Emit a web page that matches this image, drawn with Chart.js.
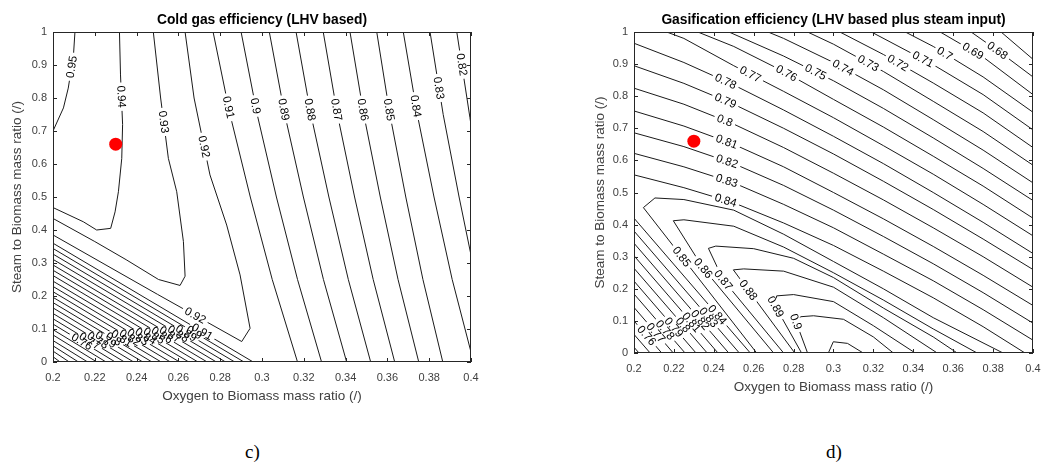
<!DOCTYPE html>
<html>
<head>
<meta charset="utf-8">
<script src="https://cdn.jsdelivr.net/npm/chart.js@4.4.1/dist/chart.umd.min.js"></script>
<style>
  body { margin: 0; background: #fff; width: 1054px; height: 465px; position: relative; overflow: hidden; }
  canvas { position: absolute; top: 0; }
  #cold { left: 0; }
  #gas { left: 560px; }
  .cap { position: absolute; top: 441px; font: 19px "Liberation Serif", "Times New Roman", serif; color: #000; }
</style>
</head>
<body>
<canvas id="cold" width="520" height="420"></canvas>
<canvas id="gas" width="494" height="420"></canvas>
<div class="cap" style="left:245px">c)</div>
<div class="cap" style="left:826px">d)</div>
<script>
// axis ticks
const xTicks = [0.2, 0.22, 0.24, 0.26, 0.28, 0.3, 0.32, 0.34, 0.36, 0.38, 0.4];
const xTickLabels = ["0.2", "0.22", "0.24", "0.26", "0.28", "0.3", "0.32", "0.34", "0.36", "0.38", "0.4"];
const yTicks = [0, 0.1, 0.2, 0.3, 0.4, 0.5, 0.6, 0.7, 0.8, 0.9, 1];
const yTickLabels = ["0", "0.1", "0.2", "0.3", "0.4", "0.5", "0.6", "0.7", "0.8", "0.9", "1"];

// operating point (red dot)
const markPoint = [0.23, 0.66];

// c) cold gas efficiency contours
const coldLevels = [0.95, 0.94, 0.93, 0.92, 0.91, 0.9, 0.89, 0.88, 0.87, 0.86, 0.85, 0.84, 0.83, 0.82,
  0.91, 0.9, 0.89, 0.88, 0.87, 0.86, 0.85, 0.84, 0.83, 0.82, 0.81, 0.8, 0.79, 0.78, 0.77, 0.76, 0.75, 0.74, 0.73, 0.72, 0.71, 0.7];
const coldPaths = [
  [[0.2105, 1], [0.2098, 0.93], [0.2073, 0.83], [0.205, 0.77], [0.2, 0.70]],
  [[0.2318, 1], [0.2323, 0.87], [0.2333, 0.72], [0.2329, 0.617], [0.2313, 0.516], [0.2297, 0.455], [0.2276, 0.405], [0.2209, 0.40], [0.2145, 0.425], [0.2, 0.468]],
  [[0.248, 1], [0.2515, 0.8], [0.2552, 0.617], [0.2592, 0.516], [0.2624, 0.365], [0.2632, 0.26], [0.2608, 0.232], [0.2505, 0.25], [0.235, 0.31], [0.22, 0.365], [0.2, 0.435]],
  [[0.2632, 1], [0.2675, 0.8], [0.2751, 0.567], [0.2831, 0.415], [0.2895, 0.264], [0.2943, 0.102], [0.2903, 0.062], [0.25, 0.205], [0.2, 0.385]],
  [[0.2766, 1], [0.2847, 0.75], [0.2944, 0.5], [0.3049, 0.25], [0.317, 0]],
  [[0.29, 1], [0.2977, 0.75], [0.3069, 0.5], [0.317, 0.25], [0.3285, 0]],
  [[0.3035, 1], [0.3109, 0.75], [0.3198, 0.5], [0.3294, 0.25], [0.3405, 0]],
  [[0.3163, 1], [0.3234, 0.75], [0.332, 0.5], [0.3413, 0.25], [0.352, 0]],
  [[0.3293, 1], [0.3361, 0.75], [0.3443, 0.5], [0.3532, 0.25], [0.3635, 0]],
  [[0.3421, 1], [0.3487, 0.75], [0.3566, 0.5], [0.3651, 0.25], [0.375, 0]],
  [[0.3549, 1], [0.3612, 0.75], [0.3688, 0.5], [0.377, 0.25], [0.3865, 0]],
  [[0.3676, 1], [0.3743, 0.75], [0.3823, 0.5], [0.391, 0.25], [0.4, 0.03]],
  [[0.3804, 1], [0.3867, 0.75], [0.3943, 0.5], [0.4, 0.324]],
  [[0.3932, 1], [0.3995, 0.74], [0.4, 0.718]],
  [[0.2, 0.360], [0.2958, 0]], [[0.2, 0.344], [0.2914, 0]], [[0.2, 0.327], [0.2870, 0]], [[0.2, 0.311], [0.2826, 0]],
  [[0.2, 0.294], [0.2782, 0]], [[0.2, 0.278], [0.2738, 0]], [[0.2, 0.262], [0.2694, 0]], [[0.2, 0.245], [0.2650, 0]],
  [[0.2, 0.229], [0.2606, 0]], [[0.2, 0.213], [0.2562, 0]], [[0.2, 0.196], [0.2518, 0]], [[0.2, 0.180], [0.2474, 0]],
  [[0.2, 0.164], [0.2430, 0]], [[0.2, 0.147], [0.2386, 0]], [[0.2, 0.131], [0.2342, 0]], [[0.2, 0.115], [0.2298, 0]],
  [[0.2, 0.098], [0.2254, 0]], [[0.2, 0.082], [0.2210, 0]], [[0.2, 0.065], [0.2166, 0]], [[0.2, 0.049], [0.2122, 0]],
  [[0.2, 0.033], [0.2078, 0]], [[0.2, 0.016], [0.2034, 0]]
];
const coldLabelAt = [
  [[0.2085, 0.895]], [[0.2325, 0.804]], [[0.2536, 0.728]], [[0.2719, 0.652], [0.268, 0.14]], [[0.2818, 0.769]],
  [[0.2954, 0.774]], [[0.3094, 0.764]], [[0.3222, 0.764]], [[0.3349, 0.764]], [[0.3477, 0.764]],
  [[0.3604, 0.764]], [[0.3724, 0.774]], [[0.3836, 0.829]], [[0.3944, 0.9]],
  [[0.2714, 0.0917]], [[0.2676, 0.0896]], [[0.2638, 0.0872]], [[0.2599, 0.0854]], [[0.256, 0.0835]], [[0.2521, 0.0817]],
  [[0.2483, 0.0797]], [[0.2444, 0.0777]], [[0.2406, 0.0756]], [[0.2368, 0.0735]], [[0.2329, 0.0715]], [[0.2291, 0.0695]],
  [[0.2253, 0.0675]], [[0.2214, 0.0655]], [[0.2176, 0.0636]], [[0.2138, 0.0617]], [], [], [], [], [], []
];

// d) gasification efficiency contours
const gasLevels = [0.67, 0.68, 0.69, 0.7, 0.71, 0.72, 0.73, 0.74, 0.75, 0.76, 0.77, 0.78, 0.79, 0.8, 0.81, 0.82, 0.83, 0.84,
  0.85, 0.86, 0.87, 0.88, 0.89, 0.9, 0.91,
  0.84, 0.83, 0.82, 0.81, 0.8, 0.79, 0.78, 0.77, 0.76, 0.75, 0.74];
const gasPaths = [
  [[0.384, 1], [0.4, 0.915]],
  [[0.369, 1], [0.385, 0.93], [0.4, 0.86]],
  [[0.3535, 1], [0.375, 0.922], [0.4, 0.805]],
  [[0.336, 1], [0.35, 0.955], [0.375, 0.86], [0.4, 0.75]],
  [[0.319, 1], [0.35, 0.898], [0.375, 0.805], [0.4, 0.695]],
  [[0.3032, 1], [0.325, 0.93], [0.35, 0.841], [0.375, 0.748], [0.4, 0.64]],
  [[0.287, 1], [0.3, 0.962], [0.325, 0.877], [0.35, 0.784], [0.375, 0.69], [0.4, 0.585]],
  [[0.2672, 1], [0.275, 0.98], [0.3, 0.905], [0.325, 0.82], [0.35, 0.727], [0.375, 0.632], [0.4, 0.53]],
  [[0.2476, 1], [0.275, 0.925], [0.3, 0.848], [0.325, 0.762], [0.35, 0.67], [0.375, 0.575], [0.4, 0.475]],
  [[0.232, 1], [0.25, 0.955], [0.275, 0.877], [0.3, 0.79], [0.325, 0.704], [0.35, 0.613], [0.375, 0.52], [0.4, 0.42]],
  [[0.2164, 1], [0.225, 0.98], [0.25, 0.895], [0.275, 0.815], [0.3, 0.733], [0.325, 0.646], [0.35, 0.557], [0.375, 0.463], [0.4, 0.365]],
  [[0.2, 0.965], [0.225, 0.905], [0.25, 0.835], [0.275, 0.757], [0.3, 0.675], [0.325, 0.59], [0.35, 0.5], [0.375, 0.407], [0.4, 0.31]],
  [[0.2, 0.895], [0.225, 0.84], [0.25, 0.775], [0.275, 0.7], [0.3, 0.62], [0.325, 0.535], [0.35, 0.447], [0.375, 0.355], [0.4, 0.26]],
  [[0.2, 0.825], [0.225, 0.775], [0.25, 0.713], [0.275, 0.64], [0.3, 0.56], [0.325, 0.477], [0.35, 0.39], [0.375, 0.3], [0.4, 0.205]],
  [[0.2, 0.754], [0.225, 0.707], [0.25, 0.65], [0.275, 0.58], [0.3, 0.5], [0.325, 0.418], [0.35, 0.332], [0.375, 0.242], [0.4, 0.148]],
  [[0.2, 0.686], [0.225, 0.643], [0.25, 0.59], [0.275, 0.522], [0.3, 0.445], [0.325, 0.363], [0.35, 0.278], [0.375, 0.188], [0.4, 0.093]],
  [[0.2, 0.622], [0.225, 0.58], [0.25, 0.53], [0.275, 0.463], [0.3, 0.39], [0.325, 0.308], [0.35, 0.225], [0.375, 0.135], [0.4, 0.04]],
  [[0.2, 0.555], [0.225, 0.515], [0.25, 0.468], [0.275, 0.405], [0.3, 0.335], [0.325, 0.255], [0.35, 0.172], [0.375, 0.082], [0.396, 0]],
  [[0.2615, 0], [0.2239, 0.3], [0.2047, 0.453], [0.2105, 0.483], [0.225, 0.478], [0.25, 0.445], [0.275, 0.37], [0.3, 0.285], [0.325, 0.2], [0.35, 0.11], [0.385, 0]],
  [[0.27, 0], [0.2347, 0.264], [0.2197, 0.412], [0.225, 0.415], [0.25, 0.395], [0.275, 0.33], [0.3, 0.25], [0.325, 0.165], [0.35, 0.075], [0.372, 0]],
  [[0.275, 0], [0.2448, 0.227], [0.2373, 0.326], [0.241, 0.333], [0.26, 0.325], [0.28, 0.295], [0.3, 0.235], [0.325, 0.14], [0.35, 0.05], [0.362, 0]],
  [[0.2806, 0], [0.2573, 0.196], [0.2498, 0.259], [0.255, 0.262], [0.275, 0.255], [0.3, 0.205], [0.325, 0.11], [0.352, 0]],
  [[0.284, 0], [0.271, 0.144], [0.2715, 0.178], [0.28, 0.182], [0.3, 0.16], [0.32, 0.085], [0.341, 0]],
  [[0.287, 0], [0.2812, 0.0975], [0.2835, 0.113], [0.29, 0.116], [0.305, 0.105], [0.32, 0.05], [0.33, 0]],
  [[0.2974, 0], [0.2999, 0.035], [0.307, 0.03], [0.3149, 0]],
  [[0.2, 0.42], [0.2583, 0]], [[0.2, 0.38], [0.2528, 0]], [[0.2, 0.342], [0.2475, 0]], [[0.2, 0.303], [0.2421, 0]],
  [[0.2, 0.264], [0.2367, 0]], [[0.2, 0.224], [0.2311, 0]], [[0.2, 0.184], [0.2256, 0]], [[0.2, 0.142], [0.2197, 0]],
  [[0.2, 0.1], [0.2139, 0]], [[0.2, 0.058], [0.2081, 0]], [[0.2, 0.018], [0.2025, 0]]
];
const gasLabelAt = [
  [], [[0.3826, 0.946]], [[0.3702, 0.944]], [[0.3559, 0.934]], [[0.3442, 0.907]], [[0.3317, 0.897]], [[0.3183, 0.913]],
  [[0.3046, 0.887]], [[0.2916, 0.882]], [[0.2757, 0.863]], [[0.2581, 0.866]], [[0.2455, 0.84]], [[0.2455, 0.781]],
  [[0.2455, 0.724]], [[0.2468, 0.664]], [[0.2468, 0.6]], [[0.2468, 0.542]], [[0.2465, 0.487]],
  [[0.2239, 0.3]], [[0.2347, 0.264]], [[0.2448, 0.227]], [[0.2573, 0.196]], [[0.271, 0.144]], [[0.2812, 0.0975]], [],
  [[0.2418, 0.119]], [[0.2374, 0.111]], [[0.2332, 0.103]], [[0.2288, 0.0956]], [[0.2245, 0.0876]], [[0.22, 0.08]],
  [[0.2156, 0.0717]], [[0.211, 0.063]], [[0.2063, 0.0546]], [], []
];

const FONT = '"Liberation Sans", Arial, Helvetica, sans-serif';
const AXIS = '#262626';
const TEXT = '#404040';
const LABEL_FONT = '11.5px ' + FONT;

// contour labels: sit on the line, the line is cut where the text is
const contourLabels = {
  id: 'contourLabels',
  beforeDatasetsDraw(chart) {
    const xs = chart.scales.x, ys = chart.scales.y, ctx = chart.ctx;
    ctx.save();
    ctx.font = LABEL_FONT;
    chart.$labels = [];
    chart.data.datasets.forEach((ds, i) => {
      if (!ds.labelAt || !ds.labelAt.length) return;
      const pts = ds.data.map(p => [xs.getPixelForValue(p.x), ys.getPixelForValue(p.y)]);
      ds.labelAt.forEach(a => {
        const qx = xs.getPixelForValue(a[0]), qy = ys.getPixelForValue(a[1]);
        let best = null;
        for (let j = 0; j < pts.length - 1; j++) {
          const [x1, y1] = pts[j], [x2, y2] = pts[j + 1];
          const dx = x2 - x1, dy = y2 - y1, len2 = dx * dx + dy * dy || 1;
          let t = ((qx - x1) * dx + (qy - y1) * dy) / len2;
          t = Math.max(0, Math.min(1, t));
          const px = x1 + t * dx, py = y1 + t * dy;
          const d = (px - qx) ** 2 + (py - qy) ** 2;
          if (!best || d < best.d) best = { d, px, py, dx, dy };
        }
        let ang = Math.atan2(best.dy, best.dx);
        if (ang > Math.PI / 2) ang -= Math.PI;
        if (ang <= -Math.PI / 2) ang += Math.PI;
        const text = String(ds.level);
        chart.$labels.push({ ds: i, x: best.px, y: best.py, ang, text, w: ctx.measureText(text).width });
      });
    });
    ctx.restore();
  },
  beforeDatasetDraw(chart, args) {
    const labs = (chart.$labels || []).filter(l => l.ds === args.index);
    if (!labs.length) return;
    const ctx = chart.ctx, a = chart.chartArea;
    ctx.save();
    ctx.beginPath();
    ctx.rect(a.left - 2, a.top - 2, a.width + 4, a.height + 4);
    labs.forEach(l => {
      const hw = l.w / 2 + 3, hh = 5, c = Math.cos(l.ang), s = Math.sin(l.ang);
      const cs = [[-hw, -hh], [hw, -hh], [hw, hh], [-hw, hh]].map(([u, v]) => [l.x + u * c - v * s, l.y + u * s + v * c]);
      ctx.moveTo(cs[0][0], cs[0][1]);
      for (let k = 1; k < 4; k++) ctx.lineTo(cs[k][0], cs[k][1]);
      ctx.closePath();
    });
    ctx.clip('evenodd');
  },
  afterDatasetDraw(chart, args) {
    if ((chart.$labels || []).some(l => l.ds === args.index)) chart.ctx.restore();
  },
  afterDatasetsDraw(chart) {
    const ctx = chart.ctx;
    ctx.save();
    ctx.font = LABEL_FONT;
    ctx.fillStyle = '#000';
    ctx.textAlign = 'center';
    ctx.textBaseline = 'middle';
    (chart.$labels || []).forEach(l => {
      ctx.save();
      ctx.translate(l.x, l.y);
      ctx.rotate(l.ang);
      ctx.fillText(l.text, 0, 0.5);
      ctx.restore();
    });
    ctx.restore();
  }
};

// MATLAB style box with inward ticks, and the title
const axesBox = {
  id: 'axesBox',
  afterDraw(chart) {
    const ctx = chart.ctx, a = chart.chartArea, xs = chart.scales.x, ys = chart.scales.y;
    ctx.save();
    ctx.strokeStyle = AXIS;
    ctx.lineWidth = 1;
    ctx.strokeRect(Math.round(a.left) + 0.5, Math.round(a.top) + 0.5, Math.round(a.width) - 1, Math.round(a.height) - 1);
    ctx.beginPath();
    xTicks.forEach(v => {
      const x = Math.round(xs.getPixelForValue(v)) + 0.5;
      ctx.moveTo(x, a.bottom); ctx.lineTo(x, a.bottom - 4);
      ctx.moveTo(x, a.top); ctx.lineTo(x, a.top + 4);
    });
    yTicks.forEach(v => {
      const y = Math.round(ys.getPixelForValue(v)) + 0.5;
      ctx.moveTo(a.left, y); ctx.lineTo(a.left + 4, y);
      ctx.moveTo(a.right, y); ctx.lineTo(a.right - 4, y);
    });
    ctx.stroke();
    ctx.fillStyle = '#000';
    ctx.font = 'bold 13.8px ' + FONT;
    ctx.textAlign = 'center';
    ctx.textBaseline = 'middle';
    ctx.fillText(chart.options.plotTitle, (a.left + a.right) / 2, a.top - 12);
    ctx.restore();
  }
};

function makeChart(id, title, levels, paths, labels, lay) {
  const sets = paths.map((p, i) => ({
    level: levels[i],
    labelAt: labels[i],
    data: p.map(([x, y]) => ({ x, y })),
    showLine: true,
    borderColor: '#1a1a1a',
    borderWidth: 1,
    pointRadius: 0,
    pointHoverRadius: 0,
    tension: 0,
    fill: false
  }));
  sets.unshift({
    data: [{ x: markPoint[0], y: markPoint[1] }],
    pointRadius: 6.5,
    pointBackgroundColor: '#ff0000',
    pointBorderWidth: 0,
    showLine: false
  });
  return new Chart(document.getElementById(id), {
    type: 'scatter',
    data: { datasets: sets },
    options: {
      responsive: false,
      animation: false,
      devicePixelRatio: 1,
      plotTitle: title,
      layout: { padding: lay.padding },
      plugins: { legend: { display: false }, tooltip: { enabled: false } },
      scales: {
        x: {
          type: 'linear', min: 0.2, max: 0.4,
          grid: { display: false, drawTicks: false },
          border: { display: false },
          afterBuildTicks: s => { s.ticks = xTicks.map(v => ({ value: v })); },
          ticks: { callback: (v, i) => xTickLabels[i], autoSkip: false, maxRotation: 0, padding: 9, color: TEXT, font: { family: FONT, size: 11 } },
          title: { display: true, text: 'Oxygen to Biomass mass ratio (/)', color: TEXT, font: { family: FONT, size: 13.5 }, padding: { top: 4, bottom: 4 } },
          afterFit: s => { s.height = lay.xh; }
        },
        y: {
          type: 'linear', min: 0, max: 1,
          grid: { display: false, drawTicks: false },
          border: { display: false },
          afterBuildTicks: s => { s.ticks = yTicks.map(v => ({ value: v })); },
          ticks: { callback: (v, i) => yTickLabels[i], autoSkip: false, padding: 6, color: TEXT, font: { family: FONT, size: 11 } },
          title: { display: true, text: 'Steam to Biomass mass ratio (/)', color: TEXT, font: { family: FONT, size: 13.5 }, padding: { top: 4, bottom: 4 } },
          afterFit: s => { s.width = lay.yw; }
        }
      }
    },
    plugins: [contourLabels, axesBox]
  });
}

makeChart('cold', 'Cold gas efficiency (LHV based)', coldLevels, coldPaths, coldLabelAt,
  { padding: { left: 5, right: 49, top: 32, bottom: 12 }, xh: 46, yw: 48 });
makeChart('gas', 'Gasification efficiency (LHV based plus steam input)', gasLevels, gasPaths, gasLabelAt,
  { padding: { left: 28, right: 21, top: 32, bottom: 21 }, xh: 46, yw: 46 });
</script>
</body>
</html>
